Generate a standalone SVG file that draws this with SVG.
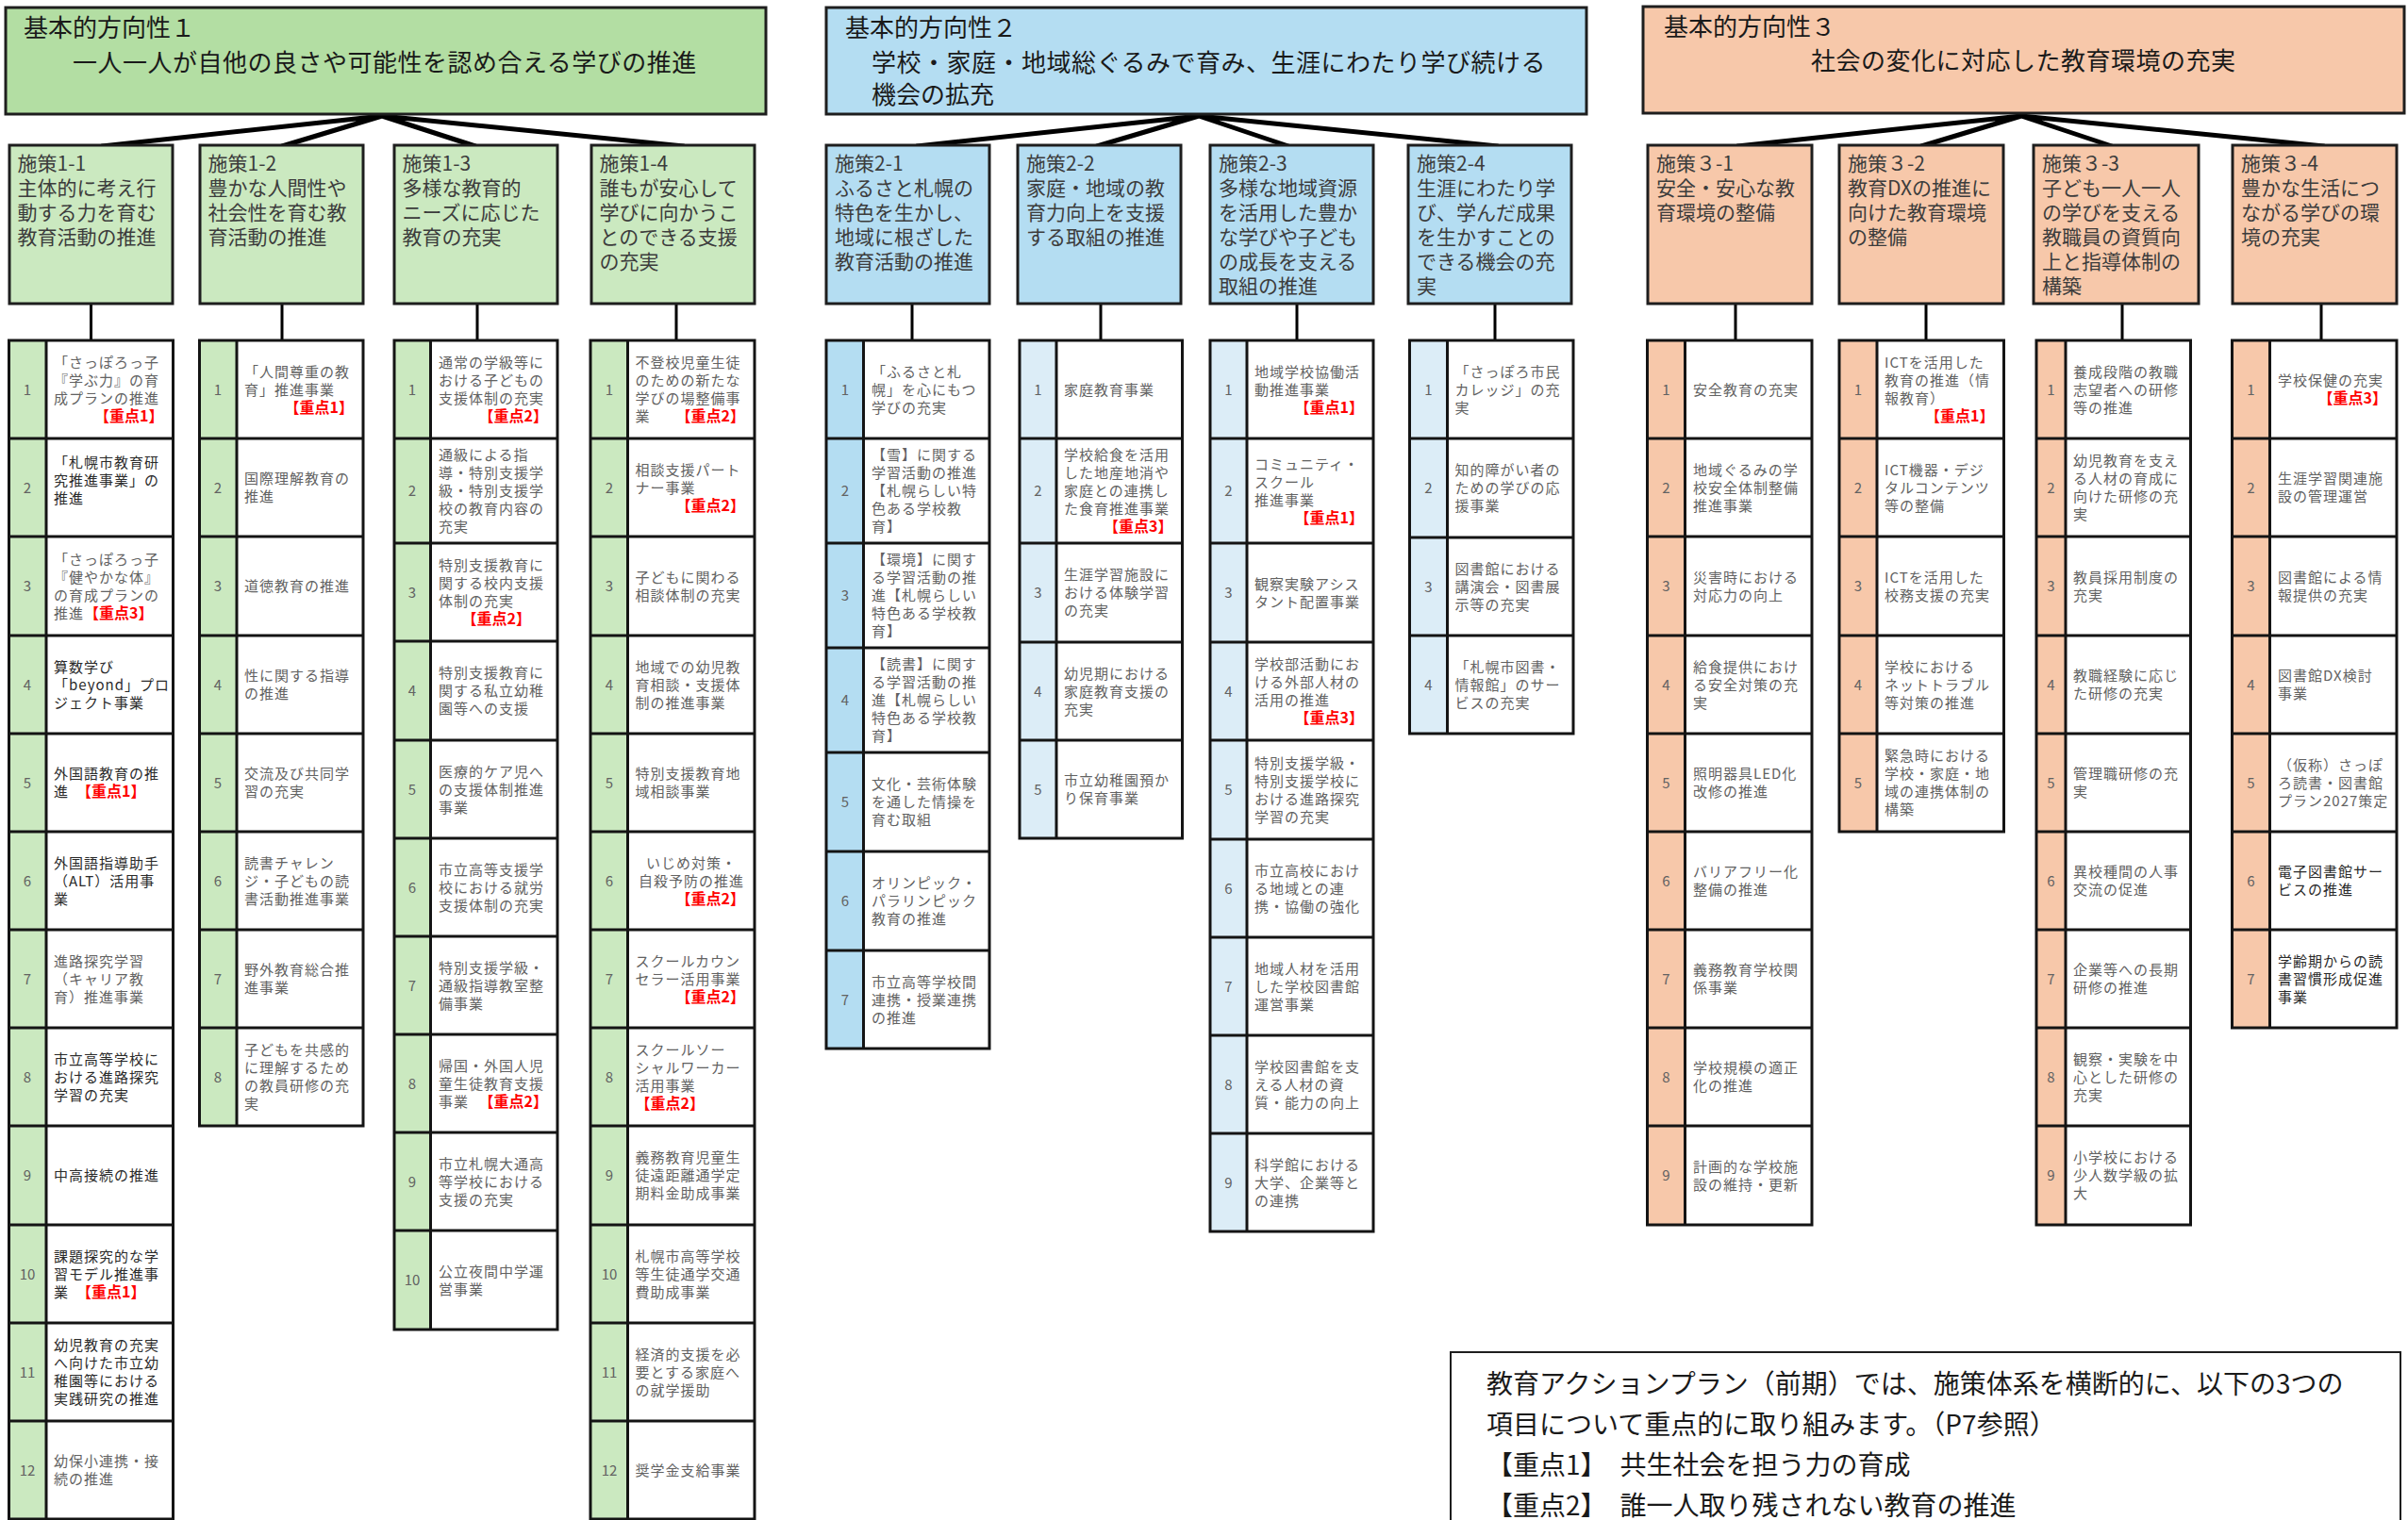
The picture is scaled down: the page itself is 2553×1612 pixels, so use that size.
<svg xmlns="http://www.w3.org/2000/svg" width="2553" height="1612" viewBox="0 0 2553 1612">
<style>
text{font-family:"Noto Sans CJK JP","Noto Sans CJK SC",sans-serif}
.bg{fill:#fff}
.box{stroke:#1e1e1e;stroke-width:3}
.gH{fill:#b3dea3}.gL{fill:#cbe9c0}
.bH{fill:#b4ddf2}.bL{fill:#dcedf7}
.oH{fill:#f7c8aa}
.w{fill:#fff}
.grid{fill:none;stroke:#141414;stroke-width:3}
.fan{stroke:#000;stroke-width:5;fill:none;stroke-linecap:round}
.vc{stroke:#000;stroke-width:3;fill:none}
.h{font-size:26px;fill:#1a1a1a}
.p{font-size:21px;fill:#3c3c3c}
.t{font-size:15px;fill:#626262;letter-spacing:1px}
.dk{fill:#2a2a2a}
.n{font-size:15px;fill:#626262;text-anchor:middle}
.r{font-size:16px;font-weight:bold;fill:#ff0000;letter-spacing:0}
.e{text-anchor:end}
.c{text-anchor:middle}
.note{font-size:28px;fill:#1a1a1a}
</style>
<rect class="bg" x="0" y="0" width="2553" height="1612"/>

<g id="connectors">
<path class="fan" d="M405 123L108 155M405 123L299 155M405 123L504 155M405 123L725 155"/>
<path class="fan" d="M1271 123L972 155M1271 123L1163 155M1271 123L1366 155M1271 123L1588 155"/>
<path class="fan" d="M2143 123L1842 155M2143 123L2037 155M2143 123L2239 155M2143 123L2464 155"/>
<path class="vc" d="M96.5 322V361M299 322V361M506 322V361M717 322V361M967 322V361M1167 322V361M1375 322V361M1585 322V361M1840 322V361M2042 322V361M2250 322V361M2461 322V361"/>
</g>

<g id="dir1">
<rect class="box gH" x="6" y="8" width="806" height="113"/>
<text class="h" x="25" y="39">基本的方向性１<tspan x="77" y="76" letter-spacing="0.5">一人一人が自他の良さや可能性を認め合える学びの推進</tspan></text>
</g>
<g id="dir2">
<rect class="box bH" x="876" y="8" width="806" height="113"/>
<text class="h" x="896" y="39">基本的方向性２<tspan x="924" y="76" letter-spacing="0.5">学校・家庭・地域総ぐるみで育み、生涯にわたり学び続ける</tspan><tspan x="924" y="110">機会の拡充</tspan></text>
</g>
<g id="dir3">
<rect class="box oH" x="1742" y="7" width="807" height="113"/>
<text class="h" x="1764" y="38">基本的方向性３<tspan x="1920" y="74" letter-spacing="0.5">社会の変化に対応した教育環境の充実</tspan></text>
</g>

<g id="p1-1"><rect class="box gL" x="10" y="154" width="173" height="168"/>
<text class="p" x="18.5" y="181">施策1-1<tspan x="18.5" dy="26">主体的に考え行</tspan><tspan x="18.5" dy="26">動する力を育む</tspan><tspan x="18.5" dy="26">教育活動の推進</tspan></text></g>
<g id="p1-2"><rect class="box gL" x="212" y="154" width="173" height="168"/>
<text class="p" x="220.5" y="181">施策1-2<tspan x="220.5" dy="26">豊かな人間性や</tspan><tspan x="220.5" dy="26">社会性を育む教</tspan><tspan x="220.5" dy="26">育活動の推進</tspan></text></g>
<g id="p1-3"><rect class="box gL" x="418" y="154" width="173" height="168"/>
<text class="p" x="426.5" y="181">施策1-3<tspan x="426.5" dy="26">多様な教育的</tspan><tspan x="426.5" dy="26">ニーズに応じた</tspan><tspan x="426.5" dy="26">教育の充実</tspan></text></g>
<g id="p1-4"><rect class="box gL" x="627" y="154" width="173" height="168"/>
<text class="p" x="635.5" y="181">施策1-4<tspan x="635.5" dy="26">誰もが安心して</tspan><tspan x="635.5" dy="26">学びに向かうこ</tspan><tspan x="635.5" dy="26">とのできる支援</tspan><tspan x="635.5" dy="26">の充実</tspan></text></g>

<g id="p2-1"><rect class="box bH" x="876" y="154" width="173" height="168"/>
<text class="p" x="885" y="181">施策2-1<tspan x="885" dy="26">ふるさと札幌の</tspan><tspan x="885" dy="26">特色を生かし、</tspan><tspan x="885" dy="26">地域に根ざした</tspan><tspan x="885" dy="26">教育活動の推進</tspan></text></g>
<g id="p2-2"><rect class="box bH" x="1079" y="154" width="173" height="168"/>
<text class="p" x="1088" y="181">施策2-2<tspan x="1088" dy="26">家庭・地域の教</tspan><tspan x="1088" dy="26">育力向上を支援</tspan><tspan x="1088" dy="26">する取組の推進</tspan></text></g>
<g id="p2-3"><rect class="box bH" x="1283" y="154" width="173" height="168"/>
<text class="p" x="1292" y="181">施策2-3<tspan x="1292" dy="26">多様な地域資源</tspan><tspan x="1292" dy="26">を活用した豊か</tspan><tspan x="1292" dy="26">な学びや子ども</tspan><tspan x="1292" dy="26">の成長を支える</tspan><tspan x="1292" dy="26">取組の推進</tspan></text></g>
<g id="p2-4"><rect class="box bH" x="1493" y="154" width="173" height="168"/>
<text class="p" x="1502" y="181">施策2-4<tspan x="1502" dy="26">生涯にわたり学</tspan><tspan x="1502" dy="26">び、学んだ成果</tspan><tspan x="1502" dy="26">を生かすことの</tspan><tspan x="1502" dy="26">できる機会の充</tspan><tspan x="1502" dy="26">実</tspan></text></g>

<g id="p3-1"><rect class="box oH" x="1747" y="154" width="174" height="168"/>
<text class="p" x="1756" y="181">施策３-1<tspan x="1756" dy="26">安全・安心な教</tspan><tspan x="1756" dy="26">育環境の整備</tspan></text></g>
<g id="p3-2"><rect class="box oH" x="1950" y="154" width="174" height="168"/>
<text class="p" x="1959" y="181">施策３-2<tspan x="1959" dy="26">教育DXの推進に</tspan><tspan x="1959" dy="26">向けた教育環境</tspan><tspan x="1959" dy="26">の整備</tspan></text></g>
<g id="p3-3"><rect class="box oH" x="2156" y="154" width="175" height="168"/>
<text class="p" x="2165" y="181">施策３-3<tspan x="2165" dy="26">子ども一人一人</tspan><tspan x="2165" dy="26">の学びを支える</tspan><tspan x="2165" dy="26">教職員の資質向</tspan><tspan x="2165" dy="26">上と指導体制の</tspan><tspan x="2165" dy="26">構築</tspan></text></g>
<g id="p3-4"><rect class="box oH" x="2367" y="154" width="174" height="168"/>
<text class="p" x="2376" y="181">施策３-4<tspan x="2376" dy="26">豊かな生活につ</tspan><tspan x="2376" dy="26">ながる学びの環</tspan><tspan x="2376" dy="26">境の充実</tspan></text></g>

<!-- Table 1-1 -->
<g id="t1-1">
<rect class="gL" x="9.5" y="361" width="39.5" height="1250"/><rect class="w" x="49" y="361" width="134.5" height="1250"/>
<path class="grid" d="M9.5 361H183.5V1611H9.5ZM49 361V1611M9.5 465H183.5M9.5 569H183.5M9.5 674H183.5M9.5 778H183.5M9.5 882H183.5M9.5 986H183.5M9.5 1090H183.5M9.5 1194H183.5M9.5 1299H183.5M9.5 1403H183.5M9.5 1507H183.5"/>
<text class="n" x="29"><tspan x="29" y="418.5">1</tspan><tspan x="29" y="522.5">2</tspan><tspan x="29" y="627">3</tspan><tspan x="29" y="731.5">4</tspan><tspan x="29" y="835.5">5</tspan><tspan x="29" y="939.5">6</tspan><tspan x="29" y="1043.5">7</tspan><tspan x="29" y="1147.5">8</tspan><tspan x="29" y="1252">9</tspan><tspan x="29" y="1356.5">10</tspan><tspan x="29" y="1460.5">11</tspan><tspan x="29" y="1564.5">12</tspan></text>
<text class="t" x="57" y="390">「さっぽろっ子<tspan x="57" dy="19">『学ぶ力』の育</tspan><tspan x="57" dy="19">成プランの推進</tspan></text>
<text class="r e" x="173.5" y="447">【重点1】</text>
<text class="t dk" x="57" y="496">「札幌市教育研<tspan x="57" dy="19">究推進事業」の</tspan><tspan x="57" dy="19">推進</tspan></text>
<text class="t" x="57" y="598.5">「さっぽろっ子<tspan x="57" dy="19">『健やかな体』</tspan><tspan x="57" dy="19">の育成プランの</tspan><tspan x="57" dy="19">推進<tspan class="r">【重点3】</tspan></tspan></text>
<text class="t dk" x="57" y="712.5">算数学び<tspan x="57" dy="19">「beyond」プロ</tspan><tspan x="57" dy="19">ジェクト事業</tspan></text>
<text class="t dk" x="57" y="826">外国語教育の推<tspan x="57" dy="19">進　<tspan class="r">【重点1】</tspan></tspan></text>
<text class="t dk" x="57" y="920.5">外国語指導助手<tspan x="57" dy="19">（ALT）活用事</tspan><tspan x="57" dy="19">業</tspan></text>
<text class="t" x="57" y="1024.5">進路探究学習<tspan x="57" dy="19">（キャリア教</tspan><tspan x="57" dy="19">育）推進事業</tspan></text>
<text class="t dk" x="57" y="1128.5">市立高等学校に<tspan x="57" dy="19">おける進路探究</tspan><tspan x="57" dy="19">学習の充実</tspan></text>
<text class="t dk" x="57" y="1252">中高接続の推進</text>
<text class="t dk" x="57" y="1337.5">課題探究的な学<tspan x="57" dy="19">習モデル推進事</tspan><tspan x="57" dy="19">業　<tspan class="r">【重点1】</tspan></tspan></text>
<text class="t dk" x="57" y="1432">幼児教育の充実<tspan x="57" dy="19">へ向けた市立幼</tspan><tspan x="57" dy="19">稚園等における</tspan><tspan x="57" dy="19">実践研究の推進</tspan></text>
<text class="t" x="57" y="1555">幼保小連携・接<tspan x="57" dy="19">続の推進</tspan></text>
</g>

<!-- Table 1-2 -->
<g id="t1-2">
<rect class="gL" x="211.5" y="361" width="39.5" height="833"/><rect class="w" x="251" y="361" width="134" height="833"/>
<path class="grid" d="M211.5 361H385V1194H211.5ZM251 361V1194M211.5 465H385M211.5 569H385M211.5 674H385M211.5 778H385M211.5 882H385M211.5 986H385M211.5 1090H385"/>
<text class="n"><tspan x="231" y="418.5">1</tspan><tspan x="231" y="522.5">2</tspan><tspan x="231" y="627">3</tspan><tspan x="231" y="731.5">4</tspan><tspan x="231" y="835.5">5</tspan><tspan x="231" y="939.5">6</tspan><tspan x="231" y="1043.5">7</tspan><tspan x="231" y="1147.5">8</tspan></text>
<text class="t" x="259" y="399.5">「人間尊重の教<tspan x="259" dy="19">育」推進事業</tspan></text>
<text class="r e" x="375" y="437.5">【重点1】</text>
<text class="t" x="259" y="513">国際理解教育の<tspan x="259" dy="19">推進</tspan></text>
<text class="t" x="259" y="627">道徳教育の推進</text>
<text class="t" x="259" y="722">性に関する指導<tspan x="259" dy="19">の推進</tspan></text>
<text class="t" x="259" y="826">交流及び共同学<tspan x="259" dy="19">習の充実</tspan></text>
<text class="t" x="259" y="920.5">読書チャレン<tspan x="259" dy="19">ジ・子どもの読</tspan><tspan x="259" dy="19">書活動推進事業</tspan></text>
<text class="t" x="259" y="1034">野外教育総合推<tspan x="259" dy="19">進事業</tspan></text>
<text class="t" x="259" y="1119">子どもを共感的<tspan x="259" dy="19">に理解するため</tspan><tspan x="259" dy="19">の教員研修の充</tspan><tspan x="259" dy="19">実</tspan></text>
</g>

<!-- Table 1-3 -->
<g id="t1-3">
<rect class="gL" x="418" y="361" width="38.5" height="1049"/><rect class="w" x="456.5" y="361" width="134.5" height="1049"/>
<path class="grid" d="M418 361H591V1410H418ZM456.5 361V1410M418 465H591M418 576H591M418 680H591M418 785H591M418 889H591M418 993H591M418 1097H591M418 1201H591M418 1305H591"/>
<text class="n"><tspan x="437" y="418.5">1</tspan><tspan x="437" y="526">2</tspan><tspan x="437" y="633.5">3</tspan><tspan x="437" y="738">4</tspan><tspan x="437" y="842.5">5</tspan><tspan x="437" y="946.5">6</tspan><tspan x="437" y="1050.5">7</tspan><tspan x="437" y="1154.5">8</tspan><tspan x="437" y="1258.5">9</tspan><tspan x="437" y="1363">10</tspan></text>
<text class="t" x="465" y="390">通常の学級等に<tspan x="465" dy="19">おける子どもの</tspan><tspan x="465" dy="19">支援体制の充実</tspan></text>
<text class="r e" x="581" y="447">【重点2】</text>
<text class="t" x="465" y="488">通級による指<tspan x="465" dy="19">導・特別支援学</tspan><tspan x="465" dy="19">級・特別支援学</tspan><tspan x="465" dy="19">校の教育内容の</tspan><tspan x="465" dy="19">充実</tspan></text>
<text class="t" x="465" y="605">特別支援教育に<tspan x="465" dy="19">関する校内支援</tspan><tspan x="465" dy="19">体制の充実</tspan></text>
<text class="r e" x="563" y="662">【重点2】</text>
<text class="t" x="465" y="719">特別支援教育に<tspan x="465" dy="19">関する私立幼稚</tspan><tspan x="465" dy="19">園等への支援</tspan></text>
<text class="t" x="465" y="823.5">医療的ケア児へ<tspan x="465" dy="19">の支援体制推進</tspan><tspan x="465" dy="19">事業</tspan></text>
<text class="t" x="465" y="927.5">市立高等支援学<tspan x="465" dy="19">校における就労</tspan><tspan x="465" dy="19">支援体制の充実</tspan></text>
<text class="t" x="465" y="1031.5">特別支援学級・<tspan x="465" dy="19">通級指導教室整</tspan><tspan x="465" dy="19">備事業</tspan></text>
<text class="t" x="465" y="1135.5">帰国・外国人児<tspan x="465" dy="19">童生徒教育支援</tspan><tspan x="465" dy="19">事業</tspan></text>
<text class="r e" x="581" y="1173.5">【重点2】</text>
<text class="t" x="465" y="1239.5">市立札幌大通高<tspan x="465" dy="19">等学校における</tspan><tspan x="465" dy="19">支援の充実</tspan></text>
<text class="t" x="465" y="1353.5">公立夜間中学運<tspan x="465" dy="19">営事業</tspan></text>
</g>

<!-- Table 1-4 -->
<g id="t1-4">
<rect class="gL" x="626" y="361" width="39.5" height="1250"/><rect class="w" x="665.5" y="361" width="134.5" height="1250"/>
<path class="grid" d="M626 361H800V1611H626ZM665.5 361V1611M626 465H800M626 569H800M626 674H800M626 778H800M626 882H800M626 986H800M626 1090H800M626 1194H800M626 1299H800M626 1403H800M626 1507H800"/>
<text class="n"><tspan x="646" y="418.5">1</tspan><tspan x="646" y="522.5">2</tspan><tspan x="646" y="627">3</tspan><tspan x="646" y="731.5">4</tspan><tspan x="646" y="835.5">5</tspan><tspan x="646" y="939.5">6</tspan><tspan x="646" y="1043.5">7</tspan><tspan x="646" y="1147.5">8</tspan><tspan x="646" y="1252">9</tspan><tspan x="646" y="1356.5">10</tspan><tspan x="646" y="1460.5">11</tspan><tspan x="646" y="1564.5">12</tspan></text>
<text class="t" x="673.5" y="390">不登校児童生徒<tspan x="673.5" dy="19">のための新たな</tspan><tspan x="673.5" dy="19">学びの場整備事</tspan><tspan x="673.5" dy="19">業</tspan></text>
<text class="r e" x="790" y="447">【重点2】</text>
<text class="t" x="673.5" y="503.5">相談支援パート<tspan x="673.5" dy="19">ナー事業</tspan></text>
<text class="r e" x="790" y="541.5">【重点2】</text>
<text class="t" x="673.5" y="617.5">子どもに関わる<tspan x="673.5" dy="19">相談体制の充実</tspan></text>
<text class="t" x="673.5" y="712.5">地域での幼児教<tspan x="673.5" dy="19">育相談・支援体</tspan><tspan x="673.5" dy="19">制の推進事業</tspan></text>
<text class="t" x="673.5" y="826">特別支援教育地<tspan x="673.5" dy="19">域相談事業</tspan></text>
<text class="t c" x="733" y="920.5">いじめ対策・<tspan x="733" dy="19">自殺予防の推進</tspan></text>
<text class="r e" x="790" y="958.5">【重点2】</text>
<text class="t" x="673.5" y="1024.5">スクールカウン<tspan x="673.5" dy="19">セラー活用事業</tspan></text>
<text class="r e" x="790" y="1062.5">【重点2】</text>
<text class="t" x="673.5" y="1119">スクールソー<tspan x="673.5" dy="19">シャルワーカー</tspan><tspan x="673.5" dy="19">活用事業</tspan></text>
<text class="r" x="673.5" y="1176">【重点2】</text>
<text class="t" x="673.5" y="1233">義務教育児童生<tspan x="673.5" dy="19">徒遠距離通学定</tspan><tspan x="673.5" dy="19">期料金助成事業</tspan></text>
<text class="t" x="673.5" y="1337.5">札幌市高等学校<tspan x="673.5" dy="19">等生徒通学交通</tspan><tspan x="673.5" dy="19">費助成事業</tspan></text>
<text class="t" x="673.5" y="1441.5">経済的支援を必<tspan x="673.5" dy="19">要とする家庭へ</tspan><tspan x="673.5" dy="19">の就学援助</tspan></text>
<text class="t" x="673.5" y="1564.5">奨学金支給事業</text>
</g>

<!-- Table 2-1 -->
<g id="t2-1">
<rect class="bH" x="876" y="361" width="39.5" height="751"/><rect class="w" x="915.5" y="361" width="133.5" height="751"/>
<path class="grid" d="M876 361H1049V1112H876ZM915.5 361V1112M876 465H1049M876 576H1049M876 687H1049M876 798H1049M876 903H1049M876 1008H1049"/>
<text class="n"><tspan x="896" y="418.5">1</tspan><tspan x="896" y="526">2</tspan><tspan x="896" y="637">3</tspan><tspan x="896" y="748">4</tspan><tspan x="896" y="856">5</tspan><tspan x="896" y="961">6</tspan><tspan x="896" y="1065.5">7</tspan></text>
<text class="t" x="924" y="399.5">「ふるさと札<tspan x="924" dy="19">幌」を心にもつ</tspan><tspan x="924" dy="19">学びの充実</tspan></text>
<text class="t" x="924" y="488">【雪】に関する<tspan x="924" dy="19">学習活動の推進</tspan><tspan x="924" dy="19">【札幌らしい特</tspan><tspan x="924" dy="19">色ある学校教</tspan><tspan x="924" dy="19">育】</tspan></text>
<text class="t" x="924" y="599">【環境】に関す<tspan x="924" dy="19">る学習活動の推</tspan><tspan x="924" dy="19">進【札幌らしい</tspan><tspan x="924" dy="19">特色ある学校教</tspan><tspan x="924" dy="19">育】</tspan></text>
<text class="t" x="924" y="710">【読書】に関す<tspan x="924" dy="19">る学習活動の推</tspan><tspan x="924" dy="19">進【札幌らしい</tspan><tspan x="924" dy="19">特色ある学校教</tspan><tspan x="924" dy="19">育】</tspan></text>
<text class="t" x="924" y="837">文化・芸術体験<tspan x="924" dy="19">を通した情操を</tspan><tspan x="924" dy="19">育む取組</tspan></text>
<text class="t" x="924" y="942">オリンピック・<tspan x="924" dy="19">パラリンピック</tspan><tspan x="924" dy="19">教育の推進</tspan></text>
<text class="t" x="924" y="1046.5">市立高等学校間<tspan x="924" dy="19">連携・授業連携</tspan><tspan x="924" dy="19">の推進</tspan></text>
</g>

<!-- Table 2-2 -->
<g id="t2-2">
<rect class="bL" x="1081" y="361" width="39" height="528"/><rect class="w" x="1120" y="361" width="133.5" height="528"/>
<path class="grid" d="M1081 361H1253.5V889H1081ZM1120 361V889M1081 465H1253.5M1081 576H1253.5M1081 681H1253.5M1081 785H1253.5"/>
<text class="n"><tspan x="1100.5" y="418.5">1</tspan><tspan x="1100.5" y="526">2</tspan><tspan x="1100.5" y="634">3</tspan><tspan x="1100.5" y="738.5">4</tspan><tspan x="1100.5" y="842.5">5</tspan></text>
<text class="t" x="1128" y="418.5">家庭教育事業</text>
<text class="t" x="1128" y="488">学校給食を活用<tspan x="1128" dy="19">した地産地消や</tspan><tspan x="1128" dy="19">家庭との連携し</tspan><tspan x="1128" dy="19">た食育推進事業</tspan></text>
<text class="r e" x="1243.5" y="564">【重点3】</text>
<text class="t" x="1128" y="615">生涯学習施設に<tspan x="1128" dy="19">おける体験学習</tspan><tspan x="1128" dy="19">の充実</tspan></text>
<text class="t" x="1128" y="719.5">幼児期における<tspan x="1128" dy="19">家庭教育支援の</tspan><tspan x="1128" dy="19">充実</tspan></text>
<text class="t" x="1128" y="833">市立幼稚園預か<tspan x="1128" dy="19">り保育事業</tspan></text>
</g>

<!-- Table 2-3 -->
<g id="t2-3">
<rect class="bL" x="1283" y="361" width="39" height="945"/><rect class="w" x="1322" y="361" width="134" height="945"/>
<path class="grid" d="M1283 361H1456V1306H1283ZM1322 361V1306M1283 465H1456M1283 576H1456M1283 681H1456M1283 785H1456M1283 890H1456M1283 994H1456M1283 1098H1456M1283 1202H1456"/>
<text class="n"><tspan x="1302.5" y="418.5">1</tspan><tspan x="1302.5" y="526">2</tspan><tspan x="1302.5" y="634">3</tspan><tspan x="1302.5" y="738.5">4</tspan><tspan x="1302.5" y="843">5</tspan><tspan x="1302.5" y="947.5">6</tspan><tspan x="1302.5" y="1051.5">7</tspan><tspan x="1302.5" y="1155.5">8</tspan><tspan x="1302.5" y="1259.5">9</tspan></text>
<text class="t" x="1330" y="399.5">地域学校協働活<tspan x="1330" dy="19">動推進事業</tspan></text>
<text class="r e" x="1446" y="437.5">【重点1】</text>
<text class="t" x="1330" y="497.5">コミュニティ・<tspan x="1330" dy="19">スクール</tspan><tspan x="1330" dy="19">推進事業</tspan></text>
<text class="r e" x="1446" y="554.5">【重点1】</text>
<text class="t" x="1330" y="624.5">観察実験アシス<tspan x="1330" dy="19">タント配置事業</tspan></text>
<text class="t" x="1330" y="710">学校部活動にお<tspan x="1330" dy="19">ける外部人材の</tspan><tspan x="1330" dy="19">活用の推進</tspan></text>
<text class="r e" x="1446" y="767">【重点3】</text>
<text class="t" x="1330" y="814.5">特別支援学級・<tspan x="1330" dy="19">特別支援学校に</tspan><tspan x="1330" dy="19">おける進路探究</tspan><tspan x="1330" dy="19">学習の充実</tspan></text>
<text class="t" x="1330" y="928.5">市立高校におけ<tspan x="1330" dy="19">る地域との連</tspan><tspan x="1330" dy="19">携・協働の強化</tspan></text>
<text class="t" x="1330" y="1032.5">地域人材を活用<tspan x="1330" dy="19">した学校図書館</tspan><tspan x="1330" dy="19">運営事業</tspan></text>
<text class="t" x="1330" y="1136.5">学校図書館を支<tspan x="1330" dy="19">える人材の資</tspan><tspan x="1330" dy="19">質・能力の向上</tspan></text>
<text class="t" x="1330" y="1240.5">科学館における<tspan x="1330" dy="19">大学、企業等と</tspan><tspan x="1330" dy="19">の連携</tspan></text>
</g>

<!-- Table 2-4 -->
<g id="t2-4">
<rect class="bL" x="1494.5" y="361" width="40" height="417"/><rect class="w" x="1534.5" y="361" width="133.5" height="417"/>
<path class="grid" d="M1494.5 361H1668V778H1494.5ZM1534.5 361V778M1494.5 465H1668M1494.5 570H1668M1494.5 674H1668"/>
<text class="n"><tspan x="1514.5" y="418.5">1</tspan><tspan x="1514.5" y="523">2</tspan><tspan x="1514.5" y="627.5">3</tspan><tspan x="1514.5" y="731.5">4</tspan></text>
<text class="t" x="1542.5" y="399.5">「さっぽろ市民<tspan x="1542.5" dy="19">カレッジ」の充</tspan><tspan x="1542.5" dy="19">実</tspan></text>
<text class="t" x="1542.5" y="504">知的障がい者の<tspan x="1542.5" dy="19">ための学びの応</tspan><tspan x="1542.5" dy="19">援事業</tspan></text>
<text class="t" x="1542.5" y="608.5">図書館における<tspan x="1542.5" dy="19">講演会・図書展</tspan><tspan x="1542.5" dy="19">示等の充実</tspan></text>
<text class="t" x="1542.5" y="712.5">「札幌市図書・<tspan x="1542.5" dy="19">情報館」のサー</tspan><tspan x="1542.5" dy="19">ビスの充実</tspan></text>
</g>

<!-- Table 3-1 -->
<g id="t3-1">
<rect class="oH" x="1746.5" y="361" width="40" height="938"/><rect class="w" x="1786.5" y="361" width="134.5" height="938"/>
<path class="grid" d="M1746.5 361H1921V1299H1746.5ZM1786.5 361V1299M1746.5 465H1921M1746.5 569H1921M1746.5 674H1921M1746.5 778H1921M1746.5 882H1921M1746.5 986H1921M1746.5 1090H1921M1746.5 1194H1921"/>
<text class="n"><tspan x="1766.5" y="418.5">1</tspan><tspan x="1766.5" y="522.5">2</tspan><tspan x="1766.5" y="627">3</tspan><tspan x="1766.5" y="731.5">4</tspan><tspan x="1766.5" y="835.5">5</tspan><tspan x="1766.5" y="939.5">6</tspan><tspan x="1766.5" y="1043.5">7</tspan><tspan x="1766.5" y="1147.5">8</tspan><tspan x="1766.5" y="1252">9</tspan></text>
<text class="t" x="1795" y="418.5">安全教育の充実</text>
<text class="t" x="1795" y="503.5">地域ぐるみの学<tspan x="1795" dy="19">校安全体制整備</tspan><tspan x="1795" dy="19">推進事業</tspan></text>
<text class="t" x="1795" y="617.5">災害時における<tspan x="1795" dy="19">対応力の向上</tspan></text>
<text class="t" x="1795" y="712.5">給食提供におけ<tspan x="1795" dy="19">る安全対策の充</tspan><tspan x="1795" dy="19">実</tspan></text>
<text class="t" x="1795" y="826">照明器具LED化<tspan x="1795" dy="19">改修の推進</tspan></text>
<text class="t" x="1795" y="930">バリアフリー化<tspan x="1795" dy="19">整備の推進</tspan></text>
<text class="t" x="1795" y="1034">義務教育学校関<tspan x="1795" dy="19">係事業</tspan></text>
<text class="t" x="1795" y="1138">学校規模の適正<tspan x="1795" dy="19">化の推進</tspan></text>
<text class="t" x="1795" y="1242.5">計画的な学校施<tspan x="1795" dy="19">設の維持・更新</tspan></text>
</g>

<!-- Table 3-2 -->
<g id="t3-2">
<rect class="oH" x="1950" y="361" width="40" height="521"/><rect class="w" x="1990" y="361" width="134.5" height="521"/>
<path class="grid" d="M1950 361H2124.5V882H1950ZM1990 361V882M1950 465H2124.5M1950 569H2124.5M1950 674H2124.5M1950 778H2124.5"/>
<text class="n"><tspan x="1970" y="418.5">1</tspan><tspan x="1970" y="522.5">2</tspan><tspan x="1970" y="627">3</tspan><tspan x="1970" y="731.5">4</tspan><tspan x="1970" y="835.5">5</tspan></text>
<text class="t" x="1998" y="390">ICTを活用した<tspan x="1998" dy="19">教育の推進（情</tspan><tspan x="1998" dy="19">報教育）</tspan></text>
<text class="r e" x="2114.5" y="447">【重点1】</text>
<text class="t" x="1998" y="503.5">ICT機器・デジ<tspan x="1998" dy="19">タルコンテンツ</tspan><tspan x="1998" dy="19">等の整備</tspan></text>
<text class="t" x="1998" y="617.5">ICTを活用した<tspan x="1998" dy="19">校務支援の充実</tspan></text>
<text class="t" x="1998" y="712.5">学校における<tspan x="1998" dy="19">ネットトラブル</tspan><tspan x="1998" dy="19">等対策の推進</tspan></text>
<text class="t" x="1998" y="807">緊急時における<tspan x="1998" dy="19">学校・家庭・地</tspan><tspan x="1998" dy="19">域の連携体制の</tspan><tspan x="1998" dy="19">構築</tspan></text>
</g>

<!-- Table 3-3 -->
<g id="t3-3">
<rect class="oH" x="2159" y="361" width="31" height="938"/><rect class="w" x="2190" y="361" width="132.5" height="938"/>
<path class="grid" d="M2159 361H2322.5V1299H2159ZM2190 361V1299M2159 465H2322.5M2159 569H2322.5M2159 674H2322.5M2159 778H2322.5M2159 882H2322.5M2159 986H2322.5M2159 1090H2322.5M2159 1194H2322.5"/>
<text class="n"><tspan x="2174.5" y="418.5">1</tspan><tspan x="2174.5" y="522.5">2</tspan><tspan x="2174.5" y="627">3</tspan><tspan x="2174.5" y="731.5">4</tspan><tspan x="2174.5" y="835.5">5</tspan><tspan x="2174.5" y="939.5">6</tspan><tspan x="2174.5" y="1043.5">7</tspan><tspan x="2174.5" y="1147.5">8</tspan><tspan x="2174.5" y="1252">9</tspan></text>
<text class="t" x="2198" y="399.5">養成段階の教職<tspan x="2198" dy="19">志望者への研修</tspan><tspan x="2198" dy="19">等の推進</tspan></text>
<text class="t" x="2198" y="494">幼児教育を支え<tspan x="2198" dy="19">る人材の育成に</tspan><tspan x="2198" dy="19">向けた研修の充</tspan><tspan x="2198" dy="19">実</tspan></text>
<text class="t" x="2198" y="617.5">教員採用制度の<tspan x="2198" dy="19">充実</tspan></text>
<text class="t" x="2198" y="722">教職経験に応じ<tspan x="2198" dy="19">た研修の充実</tspan></text>
<text class="t" x="2198" y="826">管理職研修の充<tspan x="2198" dy="19">実</tspan></text>
<text class="t" x="2198" y="930">異校種間の人事<tspan x="2198" dy="19">交流の促進</tspan></text>
<text class="t" x="2198" y="1034">企業等への長期<tspan x="2198" dy="19">研修の推進</tspan></text>
<text class="t" x="2198" y="1128.5">観察・実験を中<tspan x="2198" dy="19">心とした研修の</tspan><tspan x="2198" dy="19">充実</tspan></text>
<text class="t" x="2198" y="1233">小学校における<tspan x="2198" dy="19">少人数学級の拡</tspan><tspan x="2198" dy="19">大</tspan></text>
</g>

<!-- Table 3-4 -->
<g id="t3-4">
<rect class="oH" x="2366.5" y="361" width="40" height="729"/><rect class="w" x="2406.5" y="361" width="134.5" height="729"/>
<path class="grid" d="M2366.5 361H2541V1090H2366.5ZM2406.5 361V1090M2366.5 465H2541M2366.5 569H2541M2366.5 674H2541M2366.5 778H2541M2366.5 882H2541M2366.5 986H2541"/>
<text class="n"><tspan x="2386.5" y="418.5">1</tspan><tspan x="2386.5" y="522.5">2</tspan><tspan x="2386.5" y="627">3</tspan><tspan x="2386.5" y="731.5">4</tspan><tspan x="2386.5" y="835.5">5</tspan><tspan x="2386.5" y="939.5">6</tspan><tspan x="2386.5" y="1043.5">7</tspan></text>
<text class="t" x="2415" y="409">学校保健の充実</text>
<text class="r e" x="2531" y="428">【重点3】</text>
<text class="t" x="2415" y="513">生涯学習関連施<tspan x="2415" dy="19">設の管理運営</tspan></text>
<text class="t" x="2415" y="617.5">図書館による情<tspan x="2415" dy="19">報提供の充実</tspan></text>
<text class="t" x="2415" y="722">図書館DX検討<tspan x="2415" dy="19">事業</tspan></text>
<text class="t" x="2415" y="816.5">（仮称）さっぽ<tspan x="2415" dy="19">ろ読書・図書館</tspan><tspan x="2415" dy="19">プラン2027策定</tspan></text>
<text class="t dk" x="2415" y="930">電子図書館サー<tspan x="2415" dy="19">ビスの推進</tspan></text>
<text class="t dk" x="2415" y="1024.5">学齢期からの読<tspan x="2415" dy="19">書習慣形成促進</tspan><tspan x="2415" dy="19">事業</tspan></text>
</g>

<g id="note">
<rect x="1538" y="1434" width="1007" height="200" fill="#fff" stroke="#1e1e1e" stroke-width="2"/>
<text class="note" x="1576" y="1478">教育アクションプラン（前期）では、施策体系を横断的に、以下の3つの<tspan x="1576" y="1521">項目について重点的に取り組みます。（P7参照）</tspan><tspan x="1576" y="1564">【重点1】　共生社会を担う力の育成</tspan><tspan x="1576" y="1607">【重点2】　誰一人取り残されない教育の推進</tspan></text>
</g>
</svg>
